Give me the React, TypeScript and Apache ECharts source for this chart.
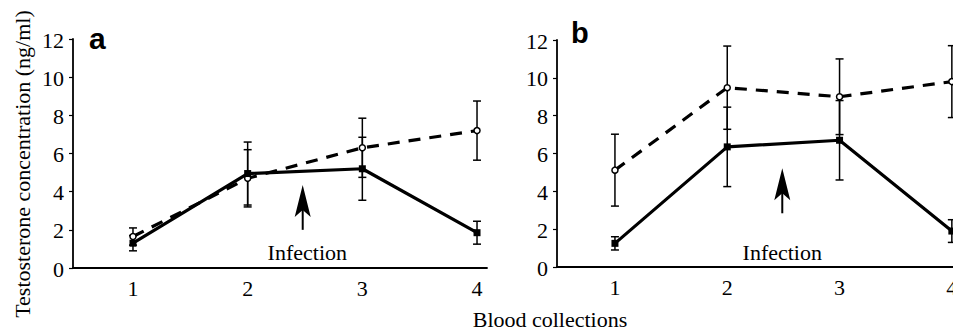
import React, { useEffect, useRef } from "react";
import * as echarts from "echarts";

// ---- data ----
const collections = [1, 2, 3, 4];
const yTicks = [0, 2, 4, 6, 8, 10, 12];

// Panel a
const aOpenMean = [1.65, 4.7, 6.3, 7.2];
const aOpenErr = [0.45, 1.5, 1.55, 1.55];
const aFilledMean = [1.3, 4.95, 5.2, 1.85];
const aFilledErr = [0.4, 1.65, 1.65, 0.6];

// Panel b
const bOpenMean = [5.12, 9.48, 9.0, 9.8];
const bOpenErr = [1.9, 2.2, 2.0, 1.9];
const bFilledMean = [1.25, 6.35, 6.7, 1.9];
const bFilledErr = [0.35, 2.1, 2.1, 0.6];

const panelLabels = ["a", "b"];
const annotationText = "Infection";
const xTitle = "Blood collections";
const yTitle = "Testosterone concentration (ng/ml)";

const SERIF = "Liberation Serif";
const SANS = "Liberation Sans";

const pts = (means: number[]) => collections.map((c, i) => [c, means[i]]);
const errs = (means: number[], e: number[]) =>
  collections.map((c, i) => [c, means[i] - e[i], means[i] + e[i]]);

function errorRender(params: any, api: any) {
  const x = api.value(0);
  const lo = api.coord([x, api.value(1)]);
  const hi = api.coord([x, api.value(2)]);
  const w = 4;
  const st = { stroke: "#000", lineWidth: 1.5 };
  return {
    type: "group",
    children: [
      { type: "line", shape: { x1: lo[0], y1: lo[1], x2: hi[0], y2: hi[1] }, style: st },
      { type: "line", shape: { x1: lo[0] - w, y1: lo[1], x2: lo[0] + w, y2: lo[1] }, style: st },
      { type: "line", shape: { x1: hi[0] - w, y1: hi[1], x2: hi[0] + w, y2: hi[1] }, style: st },
    ],
  };
}

function panelSeries(idx: number, oMean: number[], oErr: number[], fMean: number[], fErr: number[]) {
  return [
    {
      type: "custom",
      xAxisIndex: idx,
      yAxisIndex: idx,
      renderItem: errorRender,
      data: errs(oMean, oErr),
      z: 1,
      clip: true,
    },
    {
      type: "custom",
      xAxisIndex: idx,
      yAxisIndex: idx,
      renderItem: errorRender,
      data: errs(fMean, fErr),
      z: 1,
      clip: true,
    },
    {
      type: "line",
      xAxisIndex: idx,
      yAxisIndex: idx,
      data: pts(oMean),
      symbol: "circle",
      symbolSize: 6,
      lineStyle: { color: "#000", width: 3.2, type: [12, 9] },
      itemStyle: { color: "#fff", borderColor: "#000", borderWidth: 1.5 },
      z: 3,
      clip: true,
    },
    {
      type: "line",
      xAxisIndex: idx,
      yAxisIndex: idx,
      data: pts(fMean),
      symbol: "rect",
      symbolSize: 7,
      lineStyle: { color: "#000", width: 3.2 },
      itemStyle: { color: "#000" },
      z: 4,
      clip: true,
    },
  ];
}

function xAxisCfg(idx: number, min: number, max: number) {
  return {
    type: "value",
    gridIndex: idx,
    min,
    max,
    axisLine: { show: true, onZero: false, lineStyle: { color: "#000", width: 1.8 } },
    axisTick: { show: false },
    splitLine: { show: false },
    axisLabel: { show: false },
  };
}

function yAxisCfg(idx: number) {
  return {
    type: "value",
    gridIndex: idx,
    min: yTicks[0],
    max: yTicks[yTicks.length - 1],
    interval: 2,
    axisLine: { show: true, lineStyle: { color: "#000", width: 1.8 } },
    axisTick: { show: true, length: 4, lineStyle: { color: "#000", width: 1.2 } },
    splitLine: { show: false },
    axisLabel: { show: false },
  };
}

function arrow(tip: number[], tailY: number) {
  const [x, ty] = tip;
  return [
    {
      type: "line",
      shape: { x1: x, y1: ty + 22, x2: x, y2: tailY },
      style: { stroke: "#000", lineWidth: 2 },
    },
    {
      type: "polygon",
      shape: {
        points: [
          [x, ty],
          [x + 8, ty + 32],
          [x, ty + 25],
          [x - 8, ty + 32],
        ],
      },
      style: { fill: "#000" },
    },
  ];
}

export default function App() {
  const ref = useRef<HTMLDivElement>(null);
  useEffect(() => {
    if (!ref.current) return;
    const chart = echarts.init(ref.current, null, { renderer: "svg" });
    chart.setOption({
      animation: false,
      backgroundColor: "#fff",
      textStyle: { fontFamily: SERIF, color: "#000" },
      grid: [
        { left: 73, top: 39, width: 414, height: 229, outerBoundsMode: "none", containLabel: false },
        { left: 557, top: 40, width: 430, height: 227, outerBoundsMode: "none", containLabel: false },
      ],
      xAxis: [xAxisCfg(0, 0.477, 4.087), xAxisCfg(1, 0.484, 4.313)],
      yAxis: [yAxisCfg(0), yAxisCfg(1)],
      series: [
        ...panelSeries(0, aOpenMean, aOpenErr, aFilledMean, aFilledErr),
        ...panelSeries(1, bOpenMean, bOpenErr, bFilledMean, bFilledErr),
      ],
    });

    const toPx = (g: number, v: number[]) =>
      chart.convertToPixel({ gridIndex: g } as any, v) as number[];

    const txt = (x: number, y: number, text: string, font: string, align = "center", rotation = 0) => ({
      type: "text",
      x,
      y,
      rotation,
      style: { text, fill: "#000", font, align, verticalAlign: "middle" },
    });

    const tickFont = `22px "${SERIF}"`;
    const axisLabels: any[] = [];
    [0, 1].forEach((g) => {
      const origin = toPx(g, [g === 0 ? 0.477 : 0.484, 0]);
      yTicks.forEach((t) => {
        const p = toPx(g, [g === 0 ? 0.477 : 0.484, t]);
        axisLabels.push(txt(origin[0] - 9, p[1] + 1, String(t), tickFont, "right"));
      });
      collections.forEach((c) => {
        const p = toPx(g, [c, 0]);
        axisLabels.push(txt(p[0], origin[1] + 20, String(c), tickFont, "center"));
      });
    });

    const aTip = toPx(0, [2.48, 4.35]);
    const aTail = toPx(0, [2.48, 2.0]);
    const bTip = toPx(1, [2.49, 5.22]);
    const bTail = toPx(1, [2.49, 2.84]);
    const aInf = toPx(0, [2.52, 0.79]);
    const bInf = toPx(1, [2.49, 0.78]);

    chart.setOption({
      graphic: [
        ...axisLabels,
        ...arrow(aTip, aTail[1]),
        ...arrow(bTip, bTail[1]),
        txt(aInf[0], aInf[1], annotationText, `22px "${SERIF}"`),
        txt(bInf[0], bInf[1], annotationText, `22px "${SERIF}"`),
        txt(89, 38, panelLabels[0], `bold 30px "${SANS}"`, "left"),
        txt(571, 33, panelLabels[1], `bold 29px "${SANS}"`, "left"),
        txt(550, 319, xTitle, `22px "${SERIF}"`),
        txt(22, 164, yTitle, `22px "${SERIF}"`, "center", Math.PI / 2),
      ],
    });
    return () => chart.dispose();
  }, []);
  return (
    <div style={{ position: "fixed", left: 0, top: 0, width: 953, height: 331, background: "#fff" }}>
      <div ref={ref} style={{ width: 953, height: 331 }} />
    </div>
  );
}
